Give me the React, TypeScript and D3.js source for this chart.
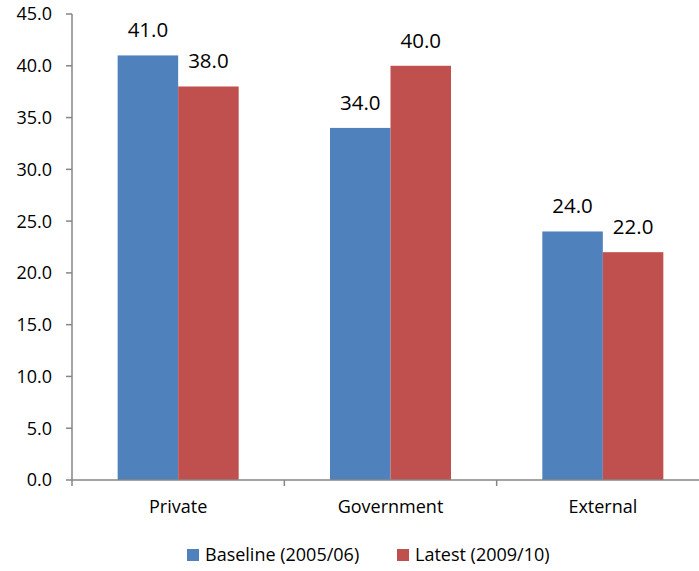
import React from "react";
import * as d3 from "d3";

const categories = ["Private", "Government", "External"];
const seriesNames = ["Baseline (2005/06)", "Latest (2009/10)"];
const baseline = [41.0, 34.0, 24.0];
const latest = [38.0, 40.0, 22.0];
const yTicks = [0, 5, 10, 15, 20, 25, 30, 35, 40, 45];
const colors = ["#4F81BD", "#C0504D"];

const W = 699;
const H = 571;
const FONT = "'Open Sans', 'Noto Sans', sans-serif";

export default function App() {
  const left = 72;
  const right = 709;
  const top = 14;
  const bottom = 480;
  const values = [baseline, latest];

  const x0 = d3.scaleBand<string>().domain(categories).range([left, right]).paddingInner(0.43).paddingOuter(0.215);
  const x1 = d3.scaleBand<number>().domain([0, 1]).range([0, x0.bandwidth()]).padding(0);
  const y = d3.scaleLinear().domain([0, 45]).range([bottom, top]);
  const step = x0.step();

  return (
    <svg width={W} height={H} style={{ position: "absolute", left: 0, top: 0 }} fontFamily={FONT}>
      <rect x={0} y={0} width={W} height={H} fill="#fff" />
      {categories.map((c, i) =>
        values.map((vals, s) => (
          <rect
            key={c + s}
            x={(x0(c) as number) + (x1(s) as number)}
            y={y(vals[i])}
            width={x1.bandwidth()}
            height={bottom - y(vals[i])}
            fill={colors[s]}
          />
        ))
      )}
      {/* y axis */}
      <line x1={left} x2={left} y1={top} y2={bottom + 6} stroke="#868686" strokeWidth={1.5} />
      {yTicks.map((t) => (
        <g key={t}>
          <line x1={left - 6} x2={left} y1={y(t)} y2={y(t)} stroke="#868686" strokeWidth={1.5} />
          <text x={52} y={y(t)} dy="0.36em" textAnchor="end" fontSize={18} fill="#000">
            {t.toFixed(1)}
          </text>
        </g>
      ))}
      {/* x axis */}
      <line x1={left} x2={W} y1={bottom} y2={bottom} stroke="#868686" strokeWidth={1.5} />
      {[1, 2].map((k) => (
        <line key={k} x1={left + step * k} x2={left + step * k} y1={bottom} y2={bottom + 6} stroke="#868686" strokeWidth={1.5} />
      ))}
      {categories.map((c) => (
        <text key={c} x={(x0(c) as number) + x0.bandwidth() / 2} y={507} dy="0.36em" textAnchor="middle" fontSize={18} fill="#000">
          {c}
        </text>
      ))}
      {/* data labels */}
      {categories.map((c, i) =>
        values.map((vals, s) => (
          <text
            key={"l" + c + s}
            x={(x0(c) as number) + (x1(s) as number) + x1.bandwidth() / 2}
            y={y(vals[i]) - 18}
            textAnchor="middle"
            fontSize={20.5}
            fill="#000"
          >
            {vals[i].toFixed(1)}
          </text>
        ))
      )}
      {/* legend */}
      {seriesNames.map((n, s) => {
        const lx = s === 0 ? 187 : 397;
        return (
          <g key={n}>
            <rect x={lx} y={549} width={12} height={12} fill={colors[s]} />
            <text x={lx + 18} y={555} dy="0.36em" fontSize={18} fill="#000">
              {n}
            </text>
          </g>
        );
      })}
    </svg>
  );
}
